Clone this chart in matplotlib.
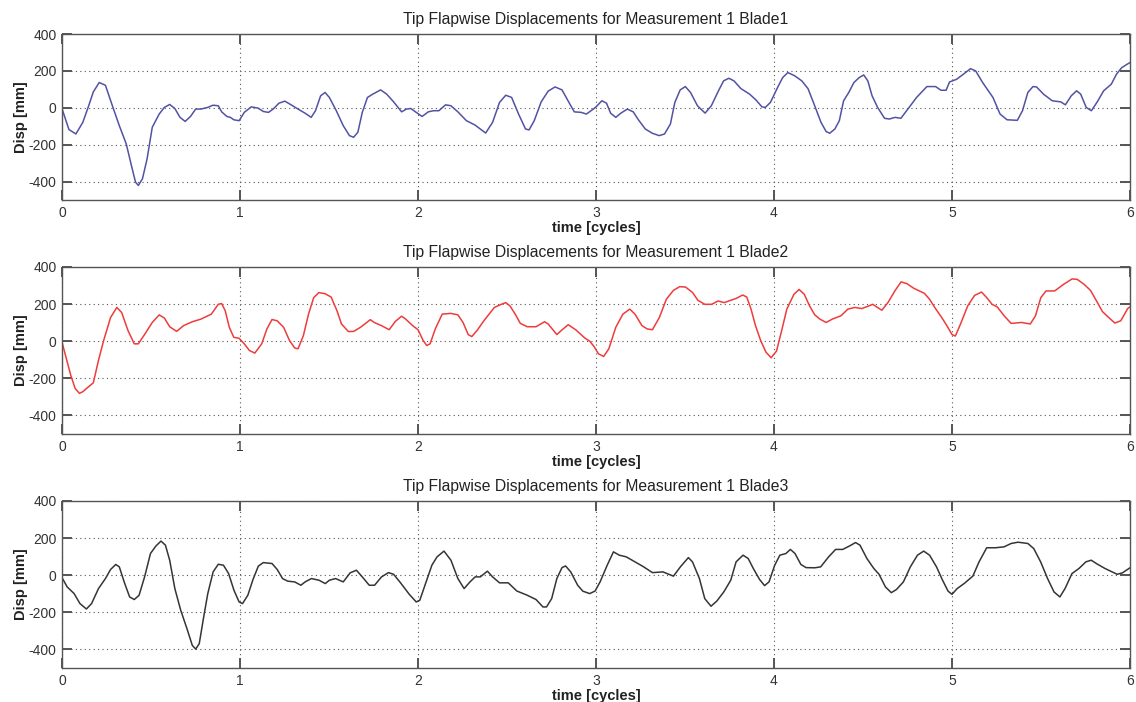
import matplotlib
matplotlib.use("Agg")
import matplotlib.pyplot as plt
import numpy as np

# ---- data (time in cycles, displacement in mm) ----
t1 = [0.0, 0.039, 0.078, 0.117, 0.146, 0.176, 0.209, 0.244, 0.283, 0.322, 0.361, 0.39, 0.413, 0.429,
      0.452, 0.478, 0.507, 0.546, 0.575, 0.605, 0.634, 0.663, 0.692, 0.722, 0.751, 0.78, 0.819, 0.848,
      0.878, 0.897, 0.926, 0.946, 0.965, 0.995, 1.024, 1.063, 1.102, 1.131, 1.16, 1.186, 1.219, 1.252,
      1.287, 1.326, 1.365, 1.4, 1.424, 1.453, 1.478, 1.502, 1.541, 1.58, 1.615, 1.638, 1.662, 1.687,
      1.716, 1.746, 1.79, 1.824, 1.863, 1.908, 1.935, 1.96, 1.99, 2.023, 2.058, 2.087, 2.117, 2.155,
      2.185, 2.224, 2.272, 2.321, 2.38, 2.419, 2.458, 2.493, 2.526, 2.565, 2.604, 2.624, 2.653, 2.692,
      2.731, 2.77, 2.809, 2.848, 2.878, 2.917, 2.946, 2.985, 3.0, 3.033, 3.059, 3.082, 3.111, 3.14,
      3.176, 3.209, 3.238, 3.277, 3.316, 3.355, 3.385, 3.418, 3.443, 3.473, 3.502, 3.531, 3.57, 3.613,
      3.648, 3.688, 3.717, 3.746, 3.775, 3.814, 3.863, 3.898, 3.932, 3.951, 3.98, 4.02, 4.049, 4.078,
      4.117, 4.156, 4.191, 4.225, 4.264, 4.293, 4.313, 4.342, 4.367, 4.391, 4.42, 4.449, 4.479, 4.504,
      4.527, 4.551, 4.582, 4.621, 4.648, 4.68, 4.713, 4.752, 4.801, 4.859, 4.908, 4.938, 4.967, 4.986,
      5.025, 5.064, 5.104, 5.133, 5.172, 5.23, 5.27, 5.309, 5.367, 5.396, 5.426, 5.455, 5.475, 5.514,
      5.563, 5.611, 5.637, 5.67, 5.7, 5.723, 5.754, 5.783, 5.816, 5.852, 5.895, 5.924, 5.953, 5.982, 6.0]
d1 = [-5, -118, -142, -79, 0, 86, 137, 122, 11, -97, -196, -313, -403, -421,
      -385, -277, -106, -34, 2, 18, -4, -52, -74, -47, -7, -7, 2, 14,
      11, -22, -47, -52, -65, -70, -25, 5, -2, -20, -25, -7, 25, 36,
      16, -7, -29, -52, -16, 65, 83, 56, -16, -97, -151, -160, -133, -25,
      56, 74, 97, 74, 32, -22, -7, -4, -25, -47, -22, -16, -16, 16,
      11, -22, -70, -94, -137, -79, 29, 68, 56, -34, -115, -120, -70, 32,
      90, 113, 97, 29, -22, -25, -34, -7, 5, 38, 25, -29, -52, -29,
      -7, -22, -65, -115, -138, -151, -142, -88, 29, 97, 115, 83, 11, -29,
      11, 92, 146, 160, 146, 104, 74, 43, 5, 2, 29, 110, 164, 191,
      173, 146, 104, 20, -79, -129, -138, -115, -70, 38, 83, 137, 164, 178,
      146, 65, 2, -57, -61, -52, -57, -7, 56, 115, 115, 95, 95, 140,
      154, 182, 212, 200, 137, 56, -34, -65, -68, -16, 83, 115, 113, 74,
      38, 32, 16, 65, 92, 74, 2, -16, 32, 92, 128, 182, 217, 235, 245]

t2 = [0.0, 0.02, 0.049, 0.074, 0.098, 0.117, 0.137, 0.176, 0.205, 0.234, 0.273, 0.308, 0.335, 0.371,
      0.406, 0.429, 0.472, 0.507, 0.546, 0.575, 0.605, 0.644, 0.683, 0.732, 0.78, 0.839, 0.878, 0.897,
      0.917, 0.94, 0.965, 0.995, 1.024, 1.053, 1.083, 1.122, 1.151, 1.18, 1.209, 1.245, 1.278, 1.307,
      1.326, 1.356, 1.385, 1.414, 1.443, 1.478, 1.512, 1.545, 1.57, 1.609, 1.638, 1.677, 1.732, 1.756,
      1.795, 1.838, 1.873, 1.908, 1.931, 1.97, 2.0, 2.029, 2.049, 2.068, 2.097, 2.136, 2.185, 2.224,
      2.253, 2.282, 2.302, 2.331, 2.37, 2.429, 2.468, 2.493, 2.517, 2.546, 2.575, 2.614, 2.663, 2.711,
      2.731, 2.78, 2.809, 2.844, 2.887, 2.936, 2.965, 2.99, 3.014, 3.043, 3.072, 3.111, 3.151, 3.19,
      3.219, 3.258, 3.288, 3.317, 3.356, 3.395, 3.435, 3.47, 3.503, 3.543, 3.572, 3.611, 3.65, 3.686,
      3.72, 3.759, 3.788, 3.824, 3.847, 3.871, 3.896, 3.925, 3.955, 3.984, 4.014, 4.043, 4.072, 4.112,
      4.141, 4.17, 4.2, 4.229, 4.258, 4.293, 4.327, 4.376, 4.415, 4.454, 4.493, 4.532, 4.555, 4.581,
      4.606, 4.64, 4.679, 4.714, 4.747, 4.786, 4.845, 4.874, 4.903, 4.942, 4.971, 5.0, 5.019, 5.048,
      5.088, 5.127, 5.166, 5.195, 5.225, 5.254, 5.293, 5.332, 5.391, 5.44, 5.469, 5.499, 5.528, 5.577,
      5.626, 5.675, 5.704, 5.743, 5.778, 5.812, 5.845, 5.88, 5.915, 5.948, 5.987, 6.0]
d2 = [-5, -77, -183, -255, -281, -272, -255, -224, -103, 4, 128, 182, 155, 57,
      -14, -14, 48, 101, 142, 125, 78, 53, 84, 105, 119, 146, 199, 203,
      164, 75, 21, 16, -14, -50, -64, -14, 66, 117, 110, 75, 4, -36,
      -41, 30, 146, 235, 262, 256, 238, 164, 93, 52, 53, 75, 116, 100,
      84, 62, 107, 135, 119, 84, 62, 4, -23, -14, 66, 146, 150, 142,
      101, 36, 25, 57, 110, 182, 199, 208, 190, 146, 96, 78, 78, 105,
      93, 36, 61, 89, 61, 18, 0, -30, -68, -82, -41, 75, 146, 173,
      146, 84, 66, 62, 128, 226, 274, 294, 292, 262, 221, 199, 199, 217,
      208, 221, 231, 249, 238, 173, 84, 4, -59, -89, -53, 57, 173, 253,
      279, 253, 190, 142, 119, 101, 119, 137, 173, 182, 176, 190, 199, 182,
      167, 208, 271, 320, 310, 285, 258, 226, 182, 128, 84, 36, 28, 93,
      190, 247, 265, 235, 199, 185, 137, 96, 101, 93, 137, 235, 271, 271,
      306, 336, 333, 306, 274, 217, 160, 128, 98, 110, 176, 185]

t3 = [0.0, 0.029, 0.068, 0.101, 0.137, 0.166, 0.205, 0.244, 0.273, 0.302, 0.322, 0.351, 0.38, 0.406,
      0.433, 0.464, 0.497, 0.527, 0.556, 0.581, 0.605, 0.634, 0.667, 0.702, 0.732, 0.751, 0.771, 0.796,
      0.819, 0.849, 0.878, 0.907, 0.936, 0.966, 0.995, 1.014, 1.044, 1.073, 1.103, 1.131, 1.18, 1.209,
      1.239, 1.268, 1.307, 1.342, 1.366, 1.401, 1.444, 1.479, 1.502, 1.537, 1.58, 1.619, 1.654, 1.687,
      1.726, 1.756, 1.795, 1.834, 1.863, 1.902, 1.951, 1.99, 2.01, 2.039, 2.078, 2.107, 2.146, 2.185,
      2.224, 2.259, 2.292, 2.321, 2.35, 2.39, 2.419, 2.458, 2.507, 2.555, 2.614, 2.663, 2.702, 2.722,
      2.751, 2.78, 2.809, 2.829, 2.858, 2.897, 2.926, 2.965, 2.995, 3.023, 3.063, 3.098, 3.131, 3.17,
      3.219, 3.268, 3.317, 3.376, 3.435, 3.474, 3.519, 3.542, 3.581, 3.611, 3.646, 3.679, 3.718, 3.757,
      3.787, 3.826, 3.855, 3.884, 3.919, 3.947, 3.972, 4.004, 4.033, 4.067, 4.092, 4.118, 4.151, 4.18,
      4.229, 4.262, 4.307, 4.346, 4.386, 4.425, 4.458, 4.483, 4.522, 4.561, 4.59, 4.626, 4.659, 4.688,
      4.727, 4.766, 4.806, 4.841, 4.874, 4.913, 4.947, 4.978, 5.0, 5.029, 5.068, 5.117, 5.152, 5.195,
      5.244, 5.293, 5.332, 5.371, 5.426, 5.459, 5.498, 5.537, 5.573, 5.606, 5.635, 5.674, 5.713, 5.752,
      5.782, 5.811, 5.86, 5.899, 5.928, 5.958, 5.993, 6.0]
d3 = [-13, -63, -99, -153, -182, -153, -72, -18, 31, 58, 45, -41, -117, -131,
      -108, -9, 117, 157, 184, 162, 81, -72, -189, -288, -378, -398, -369, -225,
      -99, 18, 59, 54, 9, -81, -144, -153, -108, -23, 49, 68, 63, 31,
      -18, -32, -36, -54, -36, -18, -27, -45, -27, -18, -36, 13, 27, -9,
      -54, -54, -9, 14, 5, -41, -103, -144, -135, -54, 54, 99, 130, 81,
      -18, -72, -36, -9, -9, 22, -9, -41, -41, -85, -108, -131, -171, -171,
      -126, -18, 41, 50, 18, -54, -86, -99, -85, -36, 54, 126, 108, 99,
      72, 45, 14, 18, -5, 45, 95, 72, -18, -126, -167, -139, -90, -27,
      72, 108, 90, 36, -23, -56, -36, 54, 108, 117, 139, 117, 58, 41,
      40, 45, 99, 139, 139, 158, 176, 162, 90, 36, 5, -63, -94, -77,
      -36, 45, 108, 130, 108, 45, -27, -86, -103, -72, -45, -5, 72, 148,
      148, 153, 171, 178, 171, 144, 72, -18, -90, -117, -72, 9, 36, 72,
      81, 63, 36, 18, 5, 13, 36, 40]

titles = ["Tip Flapwise Displacements for Measurement 1 Blade1",
          "Tip Flapwise Displacements for Measurement 1 Blade2",
          "Tip Flapwise Displacements for Measurement 1 Blade3"]
colors = ["#5252a4", "#ee3c3c", "#353535"]
xticks = [0, 1, 2, 3, 4, 5, 6]
yticks = [-400, -200, 0, 200, 400]

plt.rcParams['font.family'] = ['Liberation Sans', 'DejaVu Sans']
plt.rcParams['axes.unicode_minus'] = False

fig = plt.figure(figsize=(11.36, 7.02), dpi=100)
W, H = 1136, 702
boxes = [(34, 200), (267, 434), (501, 668)]
left, right = 62, 1130
series = [(t1, d1), (t2, d2), (t3, d3)]

for (top, bot), (tt, dd), title, col in zip(boxes, series, titles, colors):
    ax = fig.add_axes([left / W, 1 - bot / H, (right - left) / W, (bot - top) / H])
    ax.plot(tt, dd, color=col, lw=1.1)
    ax.set_xlim(0, 6)
    ax.set_ylim(-500, 400)
    ax.set_xticks(xticks)
    ax.set_yticks(yticks)
    ax.grid(True, linestyle=(0, (1, 3)), color="#555555", lw=0.8)
    for s in ax.spines.values():
        s.set_color("#555555")
        s.set_linewidth(1.0)
    ax.tick_params(direction='in', length=7, width=1.4, color="#555555",
                   top=True, right=True, labelsize=10, labelcolor="#333333", pad=4)
    ax.set_title(title, fontsize=11.3, color="#222222", pad=7)
    ax.set_xlabel("time [cycles]", fontsize=10.5, fontweight='bold', color="#222222", labelpad=1)
    ax.set_ylabel("Disp [mm]", fontsize=10.5, fontweight='bold', color="#222222", labelpad=0)

fig.savefig("out.png", dpi=100)
